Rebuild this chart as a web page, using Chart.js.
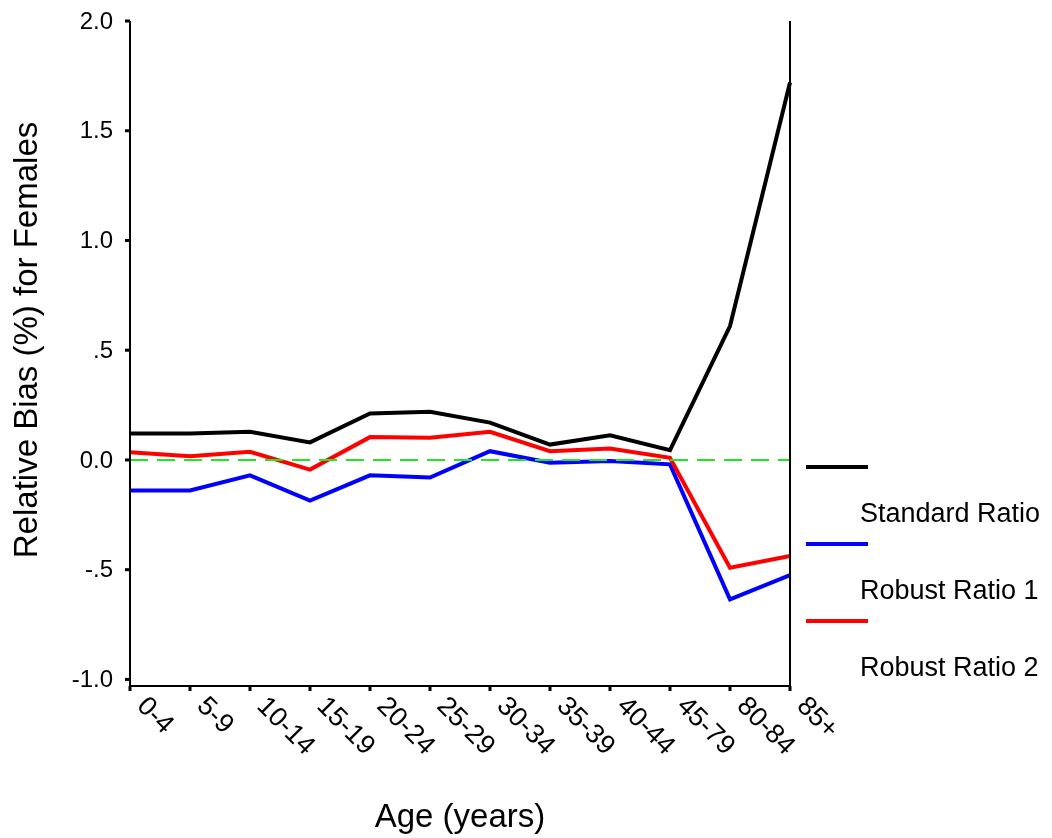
<!DOCTYPE html>
<html>
<head>
<meta charset="utf-8">
<script src="https://cdn.jsdelivr.net/npm/chart.js@4.4.1/dist/chart.umd.min.js"></script>
<style>
  html, body { margin: 0; padding: 0; background: #fff; }
  #wrap { width: 1052px; height: 838px; }
</style>
</head>
<body>
<div id="wrap"><canvas id="biasChart" width="1052" height="838"></canvas></div>
<script>
// age groups on the x axis
const ageGroups = ['0-4', '5-9', '10-14', '15-19', '20-24', '25-29', '30-34', '35-39', '40-44', '45-79', '80-84', '85+'];

// relative bias (%) per series
const standardRatio = [0.12, 0.12, 0.128, 0.08, 0.212, 0.22, 0.17, 0.07, 0.112, 0.045, 0.61, 1.72];
const robustRatio1 = [-0.139, -0.139, -0.07, -0.185, -0.07, -0.08, 0.04, -0.013, -0.005, -0.02, -0.635, -0.525];
const robustRatio2 = [0.035, 0.017, 0.037, -0.044, 0.104, 0.101, 0.128, 0.04, 0.052, 0.01, -0.491, -0.438];

const yTicks = [-1, -0.5, 0, 0.5, 1, 1.5, 2];
const yTickLabels = ['-1.0', '-.5', '0.0', '.5', '1.0', '1.5', '2.0'];
const referenceValue = 0;

const seriesNames = ['Standard Ratio', 'Robust Ratio 1', 'Robust Ratio 2'];
const seriesColors = ['#000000', '#0000ff', '#ff0000'];

const FONT = '"Liberation Sans", Arial, Helvetica, sans-serif';

// everything around the plot area is drawn here
const framePlugin = {
  id: 'frame',
  afterDatasetsDraw(chart) {
    const { ctx, chartArea: a, scales: { y } } = chart;
    // green dashed zero line
    const py = y.getPixelForValue(referenceValue);
    ctx.save();
    ctx.strokeStyle = '#22e622';
    ctx.lineWidth = 2;
    ctx.setLineDash([18, 9]);
    ctx.beginPath();
    ctx.moveTo(a.left, py);
    ctx.lineTo(a.right, py);
    ctx.stroke();
    ctx.restore();
  },
  afterDraw(chart) {
    const { ctx, chartArea: a, scales: { x, y } } = chart;
    ctx.save();

    // axes + right border (no top line)
    ctx.strokeStyle = '#000';
    ctx.lineWidth = 2;
    ctx.beginPath();
    ctx.moveTo(a.left, a.top);
    ctx.lineTo(a.left, a.bottom);
    ctx.lineTo(a.right, a.bottom);
    ctx.moveTo(a.right, a.top);
    ctx.lineTo(a.right, a.bottom);
    ctx.stroke();

    // y ticks
    ctx.fillStyle = '#000';
    ctx.font = '24px ' + FONT;
    ctx.textAlign = 'right';
    ctx.textBaseline = 'middle';
    yTicks.forEach((v, i) => {
      const py = y.getPixelForValue(v);
      ctx.fillRect(a.left - 5, py - 1.5, 5, 3);
      ctx.fillText(yTickLabels[i], a.left - 17, py + 1);
    });

    // x ticks, labels turned 45 degrees down to the right
    ctx.font = '27px ' + FONT;
    ageGroups.forEach((lab, i) => {
      const px = x.getPixelForValue(i);
      ctx.fillRect(px - 1.5, a.bottom, 3, 5);
      ctx.save();
      ctx.translate(px + 11, a.bottom + 16);
      ctx.rotate(Math.PI / 4);
      ctx.textAlign = 'left';
      ctx.textBaseline = 'middle';
      ctx.fillText(lab, 0, 0);
      ctx.restore();
    });

    // axis titles
    ctx.font = '33px ' + FONT;
    ctx.textAlign = 'center';
    ctx.textBaseline = 'middle';
    ctx.fillText('Age (years)', 460, 818);
    ctx.save();
    ctx.translate(28, 340);
    ctx.rotate(-Math.PI / 2);
    ctx.fillText('Relative Bias (%) for Females', 0, 0);
    ctx.restore();

    // legend: swatch line, label underneath
    ctx.font = '27px ' + FONT;
    ctx.textAlign = 'left';
    seriesNames.forEach((name, i) => {
      const ly = 467 + i * 77;
      ctx.fillStyle = seriesColors[i];
      ctx.fillRect(806, ly - 2, 62, 4);
      ctx.fillStyle = '#000';
      ctx.fillText(name, 860, ly + 48);
    });

    ctx.restore();
  }
};

new Chart(document.getElementById('biasChart'), {
  type: 'line',
  data: {
    labels: ageGroups,
    datasets: [
      { label: seriesNames[0], data: standardRatio, borderColor: seriesColors[0], order: 1 },
      { label: seriesNames[1], data: robustRatio1, borderColor: seriesColors[1], order: 3 },
      { label: seriesNames[2], data: robustRatio2, borderColor: seriesColors[2], order: 2 },
    ],
  },
  options: {
    responsive: false,
    animation: false,
    layout: { padding: { left: 130, right: 262, top: 21, bottom: 152 } },
    elements: {
      line: { borderWidth: 4, tension: 0, fill: false },
      point: { radius: 0, hoverRadius: 0 },
    },
    plugins: { legend: { display: false }, tooltip: { enabled: false } },
    scales: {
      x: { display: false, offset: false },
      y: { display: false, min: -1.03, max: 2.0 },
    },
  },
  plugins: [framePlugin],
});
</script>
</body>
</html>
